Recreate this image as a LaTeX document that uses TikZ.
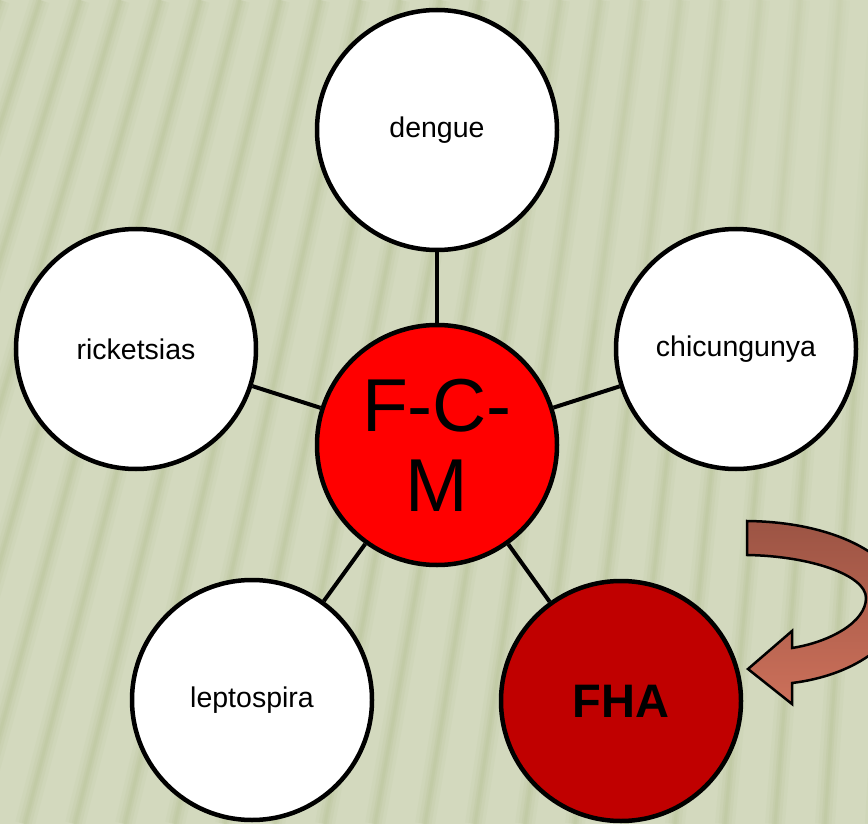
\documentclass[tikz,border=0pt]{standalone}
\usepackage{fontspec}
\setmainfont{Liberation Sans}
\usetikzlibrary{fadings}
\definecolor{bgbase}{HTML}{D3D9BE}
\definecolor{bgstripe}{HTML}{B4BF90}
\definecolor{fcmred}{HTML}{FF0000}
\definecolor{fhared}{HTML}{C00000}
\definecolor{arrtop}{HTML}{9C5444}
\definecolor{arrbot}{HTML}{CC705A}
\tikzset{
  disc/.style={circle, draw=black, line width=4.5pt, minimum size=240pt, inner sep=0pt},
  whitedisc/.style={disc, fill=white, font=\fontsize{28.5}{34}\selectfont},
  conn/.style={draw=black, line width=4pt},
  softstripe/.style={bgstripe, line cap=butt},
}
\begin{document}
\begin{tikzpicture}[x=1pt,y=-1pt]
\useasboundingbox (0,0) rectangle (868,824);
\clip (0,0) rectangle (868,824);
% background
\fill[bgbase] (0,0) rectangle (868,824);
\foreach \t in {-400,-360,...,1240}{
  \pgfmathsetmacro\b{\t-max(30,275-0.25*\t)}
  \draw[softstripe, line width=20pt, opacity=0.10] (\t,0) -- (\b,824);
  \draw[softstripe, line width=13pt, opacity=0.14] (\t,0) -- (\b,824);
  \draw[softstripe, line width=7pt, opacity=0.18] (\t,0) -- (\b,824);
  \draw[softstripe, line width=3pt, opacity=0.18] (\t,0) -- (\b,824);
}
% fade towards the top right
\fill[bgbase, path fading=west, opacity=0.5] (400,0) rectangle (868,320);
% nodes
\node[whitedisc] (dengue) at (437,130) {dengue};
\node[whitedisc] (rick) at (136,349) {ricketsias};
\node[whitedisc] (chic) at (736,349) {chicungunya};
\node[whitedisc] (lepto) at (252,700) {leptospira};
\node[disc, fill=fcmred, align=center, font=\fontsize{75}{80}\selectfont] (fcm) at (437,445) {F-C-\\M};
\node[disc, fill=fhared, font=\fontsize{47}{52}\selectfont\bfseries] (fha) at (621,701) {FHA};
% connectors
\draw[conn] (fcm) -- (dengue);
\draw[conn] (fcm) -- (rick);
\draw[conn] (fcm) -- (chic);
\draw[conn] (fcm) -- (lepto);
\draw[conn] (fcm) -- (fha);
% curved block arrow
\draw[line width=2.5pt, line join=miter, top color=arrtop, bottom color=arrbot, shading angle=0]
  (747,521) .. controls (840,522) and (902,560) .. (902,600)
  .. controls (902,645) and (850,676) .. (792,683)
  -- (792,704) -- (748,669) -- (792,631) -- (792,648)
  .. controls (830,642) and (866,622) .. (866,598)
  .. controls (866,575) and (810,556) .. (747,555) -- cycle;
\end{tikzpicture}
\end{document}
